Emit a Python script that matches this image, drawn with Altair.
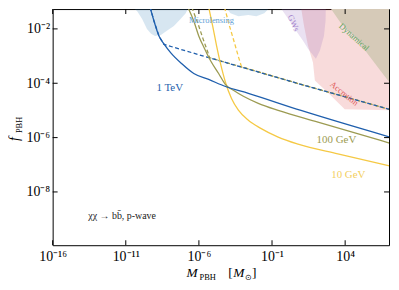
import altair as alt
import pandas as pd

# ---- axis extents (log10) and ticks ----
X_LIM = [-16, 7]
Y_LIM = [-9.96, -1.27]
X_TICKS = [-16, -11, -6, -1, 4]
Y_TICKS = [-8, -6, -4, -2]

# ---- constraint regions: lower boundary (log10 M, log10 f), filled up to the top ----
micro_a_x = [-10.57, -10.23, -9.89, -9.55, -9.27, -9.0, -8.6, -8.19, -7.71, -7.24, -6.9, -6.7]
micro_a_y = [-1.2, -1.34, -1.63, -2.0, -2.18, -2.26, -2.22, -2.07, -1.89, -1.63, -1.42, -1.2]
micro_b_x = [-4.18, -3.84, -3.30, -2.62, -2.07, -1.53, -1.12]
micro_b_y = [-1.2, -1.42, -1.53, -1.49, -1.53, -1.42, -1.2]
gw_x = [-0.44, 0.10, 0.64, 1.12, 1.46, 2.0, 2.27, 2.55, 2.66, 2.68]
gw_y = [-1.2, -1.63, -2.07, -2.44, -2.73, -3.10, -2.80, -2.26, -1.71, -1.2]
acc_x = [0.98, 1.19, 1.46, 1.80, 1.93, 2.95, 3.97, 7.03]
acc_y = [-1.2, -1.89, -2.62, -3.24, -3.90, -4.41, -4.96, -4.99]
dyn_x = [2.95, 3.70, 4.72, 5.74, 7.03]
dyn_y = [-1.2, -1.78, -2.33, -3.06, -3.97]

# ---- f_PBH upper limits (log10 M, log10 f) ----
tev_x = [-9.34, -9.07, -8.73, -8.39, -7.92, -7.17, -6.35, -5.33, -4.18, -2.62, 0.98, 7.0]
tev_y = [-1.2, -1.71, -2.26, -2.55, -2.88, -3.28, -3.64, -3.86, -4.12, -4.37, -5.0, -5.97]
tev_d_x = [-9.34, -9.07, -8.73, -8.39, -6.01, 0.78, 7.03]
tev_d_y = [-1.2, -1.71, -2.26, -2.57, -2.95, -4.01, -4.96]
gev100_x = [-6.76, -6.35, -6.01, -5.61, -5.20, -4.65, -4.18, -3.64, -2.96, -1.94, -0.58, 2.14, 7.03]
gev100_y = [-1.2, -1.71, -2.26, -2.73, -3.17, -3.64, -4.05, -4.26, -4.48, -4.74, -5.0, -5.43, -6.2]
gev100_d_x = [-6.49, -6.08, -5.74, -5.40, -5.27, 0.78, 7.03]
gev100_d_y = [-1.2, -1.78, -2.33, -2.84, -3.06, -4.01, -4.96]
gev10_x = [-5.33, -5.06, -4.79, -4.52, -4.18, -3.77, -3.30, -2.62, -1.80, -0.58, 0.78, 3.50, 7.03]
gev10_y = [-1.2, -1.89, -2.62, -3.28, -3.97, -4.56, -4.99, -5.36, -5.65, -5.98, -6.24, -6.60, -7.04]
gev10_d_x = [-4.25, -3.91, -3.57, -3.30, -3.09, 0.78, 7.03]
gev10_d_y = [-1.2, -1.89, -2.51, -3.02, -3.39, -4.01, -4.96]

W, H = 339, 238
SERIF = "Liberation Serif"
BLUE, OLIVE, YELLOW = "#1f5fad", "#9c9b52", "#f5c945"

SUP = str.maketrans("-0123456789", "⁻⁰¹²³⁴⁵⁶⁷⁸⁹")


def lab(e):
    return "10" + str(e).translate(SUP)


def label_expr(ticks):
    arr = "[" + ",".join(f"'{lab(e)}'" for e in ticks) + "]"
    idx = "[" + ",".join(str(e) for e in ticks) + "]"
    return f"{arr}[indexof({idx}, round(log(datum.value)/LN10))]"


xscale = alt.Scale(type="log", domain=[10 ** X_LIM[0], 10 ** X_LIM[1]], nice=False)
yscale = alt.Scale(type="log", domain=[10 ** Y_LIM[0], 10 ** Y_LIM[1]], nice=False)
xaxis = alt.Axis(values=[10 ** e for e in X_TICKS], labelExpr=label_expr(X_TICKS), title=None,
                 labelPadding=4, labelFlush=False, labelOverlap=False)
yaxis = alt.Axis(values=[10 ** e for e in Y_TICKS], labelExpr=label_expr(Y_TICKS), title=None,
                 labelPadding=3, labelOverlap=False)


def X(field):
    return alt.X(field, type="quantitative", scale=xscale, axis=xaxis)


def Y(field):
    return alt.Y(field, type="quantitative", scale=yscale, axis=yaxis)


def frame(xs, ys):
    return pd.DataFrame({"M": [10 ** a for a in xs], "f": [10 ** b for b in ys],
                         "top": [10 ** Y_LIM[1]] * len(xs),
                         "i": list(range(len(xs)))})


layers = []
# regions, filled from the boundary up to the top of the plot
for xs, ys, color, op in [
    (micro_a_x, micro_a_y, "#1f77b4", 0.18),
    (micro_b_x, micro_b_y, "#1f77b4", 0.18),
    (acc_x, acc_y, "#d62728", 0.17),
    (gw_x, gw_y, "#9467bd", 0.2),
    (dyn_x, dyn_y, "#d6cab8", 1.0),
]:
    layers.append(alt.Chart(frame(xs, ys)).mark_area(fill=color, fillOpacity=op, clip=True)
                  .encode(x=X("M"), y=Y("f"), y2=alt.Y2("top")))

# lines: dashed first, solids on top
for xs, ys, color, dash in [
    (gev10_d_x, gev10_d_y, YELLOW, [4, 2.5]),
    (gev100_d_x, gev100_d_y, OLIVE, [4, 2.5]),
    (tev_d_x, tev_d_y, BLUE, [4, 2.5]),
]:
    layers.append(alt.Chart(frame(xs, ys)).mark_line(color=color, strokeWidth=1.3, strokeDash=dash,
                                                      clip=True)
                  .encode(x=X("M"), y=Y("f"), order=alt.Order("i:Q")))
for xs, ys, color in [
    (gev10_x, gev10_y, YELLOW),
    (gev100_x, gev100_y, OLIVE),
    (tev_x, tev_y, BLUE),
]:
    layers.append(alt.Chart(frame(xs, ys)).mark_line(color=color, strokeWidth=1.3, clip=True,
                                                      interpolate="monotone")
                  .encode(x=X("M"), y=Y("f"), order=alt.Order("i:Q")))

# inward ticks on all four sides
xt = pd.DataFrame({"v": [10 ** e for e in X_TICKS]})
yt = pd.DataFrame({"v": [10 ** e for e in Y_TICKS]})
for y0, y1 in [(H, H - 5), (0, 5)]:
    layers.append(alt.Chart(xt).mark_rule(color="black", strokeWidth=1)
                  .encode(x=X("v"), y=alt.value(y0), y2=alt.value(y1)))
for x0, x1 in [(0, 5), (W, W - 5)]:
    layers.append(alt.Chart(yt).mark_rule(color="black", strokeWidth=1)
                  .encode(y=Y("v"), x=alt.value(x0), x2=alt.value(x1)))


def text(t, x, y, size, color="black", angle=0, style="normal", align="center", baseline="middle"):
    return (alt.Chart(pd.DataFrame({"t": [t]}))
            .mark_text(font=SERIF, fontSize=size, color=color, angle=angle, fontStyle=style,
                       align=align, baseline=baseline)
            .encode(x=alt.value(x), y=alt.value(y), text="t:N"))


# region / curve labels
layers += [
    text("Microlensing", 160, 11, 8.5, "#5f9fd6"),
    text("GWs", 243, 14, 8.5, "#a382cc", angle=65),
    text("Dynamical", 304, 28, 8.5, "#5aa55a", angle=42),
    text("Accretion", 294, 85, 8.5, "#e05a5a", angle=39),
    text("1 TeV", 118, 80, 11, BLUE),
    text("100 GeV", 286, 132, 11, OLIVE),
    text("10 GeV", 298, 167, 11, "#f3cf5f"),
    text("χχ → bb̄, p-wave", 70, 209, 10, "#222222"),
]
# axis titles
layers += [
    text("M", 135, 270, 13.5, style="italic", align="left", baseline="alphabetic"),
    text("PBH", 148, 273, 8.5, align="left", baseline="alphabetic"),
    text("[", 177, 270, 13.5, align="left", baseline="alphabetic"),
    text("M", 182, 270, 13.5, style="italic", align="left", baseline="alphabetic"),
    text("⊙", 194, 273, 8.5, align="left", baseline="alphabetic"),
    text("]", 201, 270, 13.5, align="left", baseline="alphabetic"),
    text("f", -34, 133, 14, style="italic", angle=270, align="left", baseline="alphabetic"),
    text("PBH", -31, 125, 8.5, angle=270, align="left", baseline="alphabetic"),
]

chart = (alt.layer(*layers)
         .properties(width=W, height=H, padding={"left": 45, "top": 0, "right": 2, "bottom": 36},
                     autosize=alt.AutoSizeParams(type="none"))
         .configure_view(stroke="black", strokeWidth=1)
         .configure_axis(labelFont=SERIF, labelFontSize=14, labelColor="black", domain=False,
                         ticks=False, grid=False))

chart.save("out.html", embed_options={"renderer": "svg", "actions": False})
